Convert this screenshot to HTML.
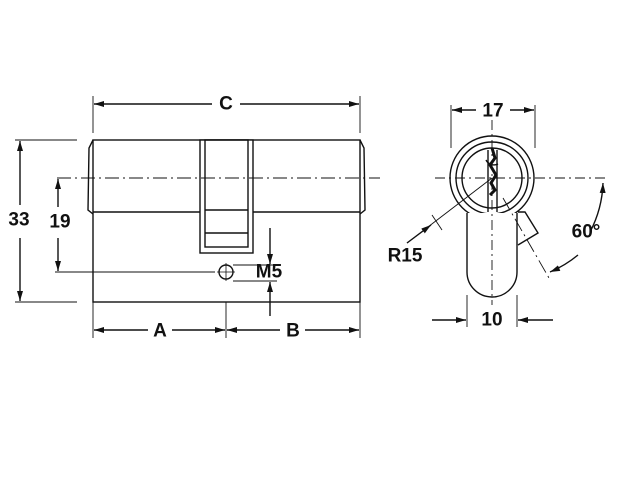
<!DOCTYPE html>
<html><head><style>body{margin:0;background:#fff}svg{display:block}text{font-family:"Liberation Sans",sans-serif;font-weight:bold;fill:#111}</style></head><body>
<svg width="637" height="501" viewBox="0 0 637 501" xmlns="http://www.w3.org/2000/svg">
<defs><marker id="a" viewBox="0 0 10 6" refX="10" refY="3" markerWidth="10" markerHeight="6" orient="auto-start-reverse" markerUnits="userSpaceOnUse"><path d="M0,0L10,3L0,6z" fill="#111"/></marker></defs>
<g stroke="#111" stroke-width="1.4" fill="none">
<!-- body -->
<rect x="93" y="140" width="267" height="162"/>
<line x1="93" y1="212" x2="200" y2="212"/><line x1="253" y1="212" x2="360" y2="212"/>
<path d="M93,140 L89,148 L88,210 L93,214"/><path d="M360,140 L364,148 L365,210 L360,214"/>
<rect x="200" y="140" width="53" height="113" fill="#fff"/>
<rect x="205" y="140" width="43" height="107"/>
<line x1="205" y1="210" x2="248" y2="210"/><line x1="205" y1="233" x2="248" y2="233"/>
<circle cx="226" cy="272" r="7"/>
<line x1="226" y1="263" x2="226" y2="281" stroke-width="0.8"/><line x1="217" y1="272" x2="235" y2="272" stroke-width="0.8"/>
<line x1="57" y1="178" x2="380" y2="178" stroke-width="0.9" stroke-dasharray="14,4,2,4"/>
<!-- dims left -->
<line x1="15" y1="140" x2="77" y2="140" stroke-width="0.9"/><line x1="15" y1="302" x2="77" y2="302" stroke-width="0.9"/>
<line x1="20" y1="141" x2="20" y2="205" marker-start="url(#a)"/><line x1="20" y1="238" x2="20" y2="301" marker-end="url(#a)"/>
<line x1="55" y1="272" x2="215" y2="272" stroke-width="0.9"/>
<line x1="58" y1="179" x2="58" y2="207" marker-start="url(#a)"/><line x1="58" y1="238" x2="58" y2="271" marker-end="url(#a)"/>
<line x1="93" y1="96" x2="93" y2="133" stroke-width="0.9"/><line x1="360" y1="96" x2="360" y2="133" stroke-width="0.9"/>
<line x1="94" y1="104" x2="212" y2="104" marker-start="url(#a)"/><line x1="240" y1="104" x2="359" y2="104" marker-end="url(#a)"/>
<line x1="93" y1="302" x2="93" y2="338" stroke-width="0.9"/><line x1="226" y1="302" x2="226" y2="338" stroke-width="0.9"/><line x1="360" y1="302" x2="360" y2="338" stroke-width="0.9"/>
<line x1="94" y1="330" x2="148" y2="330" marker-start="url(#a)"/><line x1="172" y1="330" x2="225" y2="330" marker-end="url(#a)"/>
<line x1="227" y1="330" x2="280" y2="330" marker-start="url(#a)"/><line x1="305" y1="330" x2="359" y2="330" marker-end="url(#a)"/>
<line x1="233" y1="265" x2="277" y2="265" stroke-width="0.9"/><line x1="233" y1="281" x2="277" y2="281" stroke-width="0.9"/>
<line x1="270" y1="228" x2="270" y2="264" marker-end="url(#a)"/><line x1="270" y1="282" x2="270" y2="316" marker-start="url(#a)"/>
<rect x="254" y="266" width="30" height="14" fill="#fff" stroke="none"/>
<!-- right view -->
<circle cx="492" cy="178" r="42"/><circle cx="492" cy="178" r="36"/><circle cx="492" cy="178" r="30"/>
<path d="M467,213 L467,272 A25,25 0 0 0 517,272 L517,213" fill="#fff"/>
<path d="M486,160 A9,9 0 0 0 498,164" />
<line x1="488" y1="150" x2="488" y2="212"/><line x1="497" y1="150" x2="497" y2="212"/>
<path d="M492,148 L495,158 L490,165 L496,175 L491,183 L495,190 L490,195" stroke-width="3"/>
<path d="M518,212 L525,212 L538,233 L518,245" fill="#fff"/>
<line x1="435" y1="178" x2="605" y2="178" stroke-width="0.9" stroke-dasharray="10,4,2,4"/>
<line x1="492" y1="120" x2="492" y2="305" stroke-width="0.9" stroke-dasharray="10,4,2,4"/>
<line x1="503" y1="198" x2="549" y2="278" stroke-width="0.9" stroke-dasharray="14,4,2,4"/>
<line x1="451" y1="105" x2="451" y2="148" stroke-width="0.9"/><line x1="535" y1="105" x2="535" y2="148" stroke-width="0.9"/>
<line x1="452" y1="110" x2="476" y2="110" marker-start="url(#a)"/><line x1="510" y1="110" x2="534" y2="110" marker-end="url(#a)"/>
<line x1="467" y1="295" x2="467" y2="327" stroke-width="0.9"/><line x1="517" y1="295" x2="517" y2="327" stroke-width="0.9"/>
<line x1="432" y1="320" x2="466" y2="320" marker-end="url(#a)"/><line x1="553" y1="320" x2="518" y2="320" marker-end="url(#a)"/>
<path d="M603,183 A113,113 0 0 1 590,232" marker-start="url(#a)"/>
<path d="M578,255 A113,113 0 0 1 550,272" marker-end="url(#a)"/>
<line x1="492" y1="178" x2="407" y2="243" stroke-width="0.9"/>
<line x1="407" y1="243" x2="431" y2="225" marker-end="url(#a)"/>
<line x1="432" y1="215" x2="442" y2="230" stroke-width="0.9"/>
</g>
<g font-size="19" text-anchor="middle" dominant-baseline="central">
<text x="226" y="104">C</text>
<text x="19" y="220">33</text>
<text x="60" y="222">19</text>
<text x="160" y="331">A</text>
<text x="293" y="331">B</text>
<text x="269" y="272">M5</text>
<text x="493" y="111">17</text>
<text x="492" y="320">10</text>
<text x="405" y="256">R15</text>
<text x="586" y="232">60°</text>
</g>
</svg>
</body></html>
